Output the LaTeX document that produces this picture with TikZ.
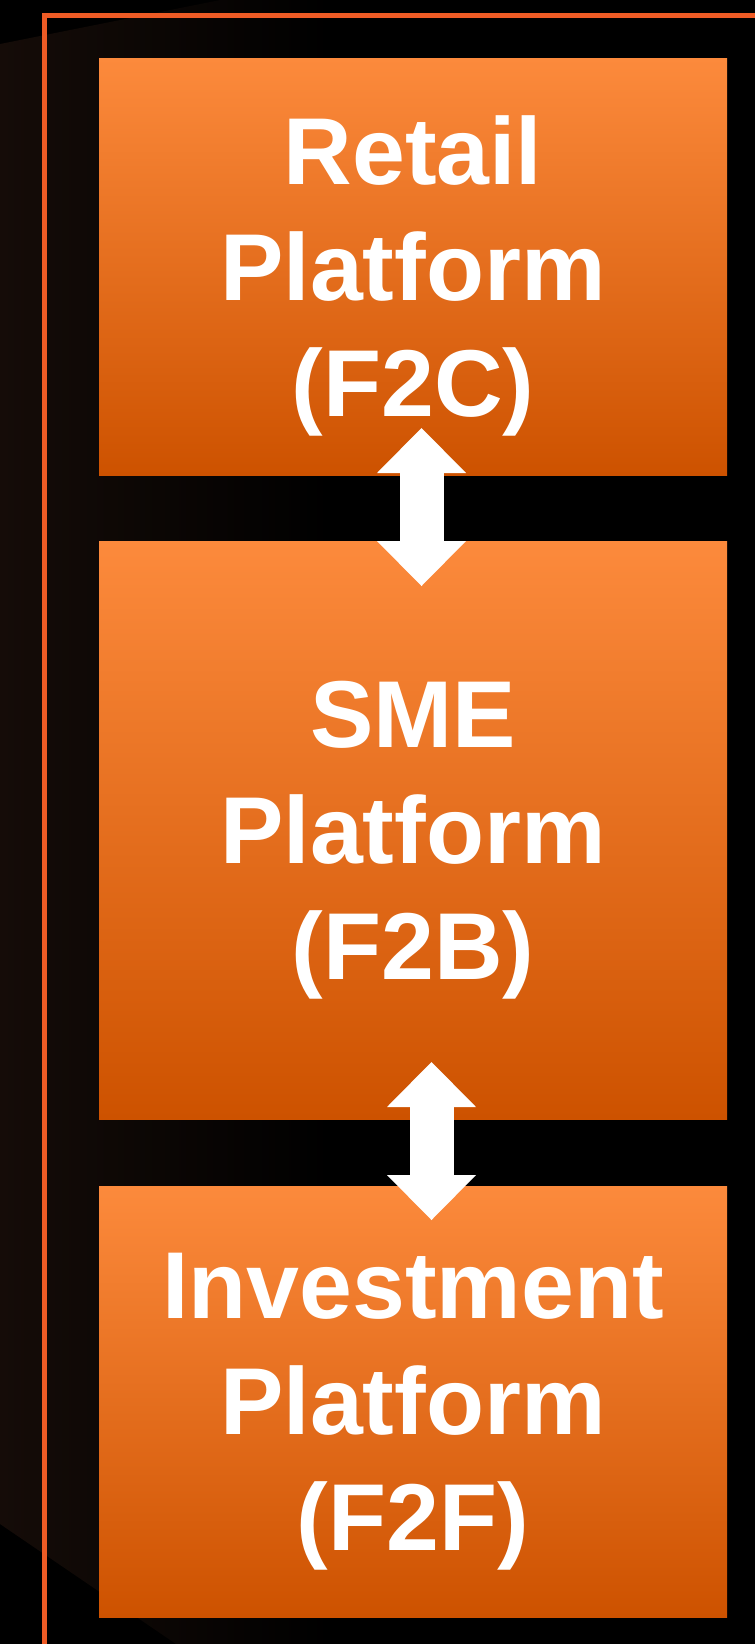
\documentclass[tikz,border=0pt]{standalone}
\usepackage{fontspec}
\setmainfont{Liberation Sans}
\usetikzlibrary{arrows.meta}
\definecolor{orTop}{HTML}{FC8A3C}
\definecolor{orBot}{HTML}{CD5200}
\definecolor{frameOr}{HTML}{EE5B25}
\definecolor{shadowBr}{HTML}{150C08}
\tikzset{
  platform/.style={rectangle, draw=none, top color=orTop, bottom color=orBot,
    minimum width=628pt, inner sep=0pt, align=center, text=white,
    font=\bfseries\fontsize{95}{116}\selectfont, text depth=-11pt},
  biarrow/.style={draw=white, line width=44pt,
    {Triangle[width=89pt,length=45pt,line width=0pt]}-{Triangle[width=89pt,length=45pt,line width=0pt]}}
}
\begin{document}
\begin{tikzpicture}[x=1pt,y=-1pt]
\useasboundingbox (0,0) rectangle (755,1644);
\fill[black] (0,0) rectangle (755,1644);
% faint perspective shadow on the left
\shade[left color=shadowBr, right color=black]
  (0,44) -- (220,0) -- (330,0) -- (330,1644) -- (176,1644) -- (0,1524) -- cycle;
% frame line
\draw[frameOr, line width=4.5pt] (44.5,1650) -- (44.5,15.3) -- (760,15.3);
% boxes
\node[platform, minimum height=417pt] (b1) at (413,266.5) {Retail\\Platform\\(F2C)};
\node[platform, minimum height=578pt] (b2) at (413,830) {SME\\Platform\\(F2B)};
\node[platform, minimum height=431pt] (b3) at (413,1401.5) {Investment\\Platform\\(F2F)};
% double arrows
\coordinate (a1n) at (421.5,428);
\coordinate (a1s) at (421.5,586);
\coordinate (a2n) at (431.5,1062);
\coordinate (a2s) at (431.5,1220);
\draw[biarrow] (a1n) -- (a1s);
\draw[biarrow] (a2n) -- (a2s);
\end{tikzpicture}
\end{document}
